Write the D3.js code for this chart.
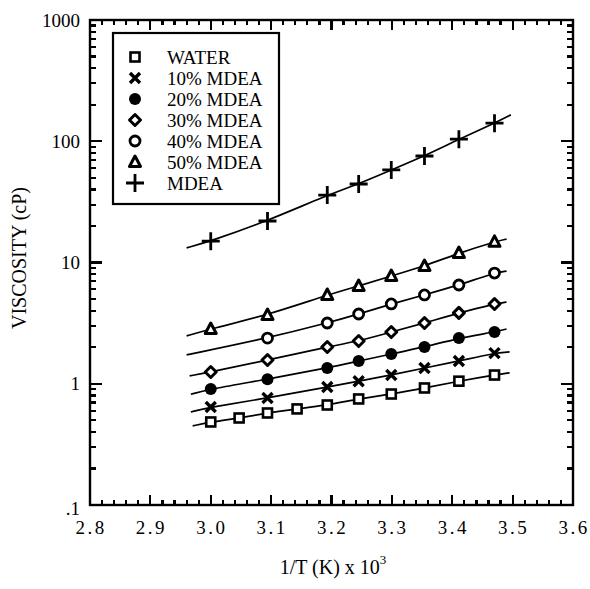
<!DOCTYPE html>
<html>
<head>
<meta charset="utf-8">
<script src="https://cdn.jsdelivr.net/npm/d3@7"></script>
</head>
<body style="margin:0">
<svg id="chart" width="590" height="589" font-family="Liberation Serif, Times New Roman, serif"></svg>
<script>
// 1/T (K) x 10^3 at each measured temperature
var xMain = [3.0, 3.094, 3.193, 3.245, 3.299, 3.354, 3.411, 3.470];
var xWater = [3.0, 3.047, 3.094, 3.143, 3.193, 3.245, 3.299, 3.354, 3.411, 3.470];
var x40 = [3.094, 3.193, 3.245, 3.299, 3.354, 3.411, 3.470];

// viscosity (cP)
var water = [0.484, 0.522, 0.574, 0.62, 0.668, 0.749, 0.823, 0.923, 1.05, 1.18];
var mdea10 = [0.643, 0.762, 0.94, 1.05, 1.18, 1.35, 1.54, 1.79];
var mdea20 = [0.905, 1.09, 1.35, 1.54, 1.76, 2.01, 2.38, 2.67];
var mdea30 = [1.25, 1.57, 2.01, 2.25, 2.67, 3.17, 3.84, 4.55];
var mdea40 = [2.38, 3.17, 3.76, 4.55, 5.40, 6.52, 8.18];
var mdea50 = [2.83, 3.69, 5.4, 6.4, 7.74, 9.36, 11.97, 14.8];
var mdea100 = [15.0, 22.0, 36.0, 44.4, 58.0, 75.6, 104, 141];

// ends of the fitted curves [x, value]
var fitStart = [[2.97, 0.449], [2.967, 0.585], [2.967, 0.82], [2.965, 1.16], [2.96, 1.73], [2.96, 2.48], [2.96, 13.2]];
var fitEnd = [[3.495, 1.23], [3.495, 1.83], [3.49, 2.83], [3.49, 4.72], [3.49, 8.5], [3.49, 15.6], [3.497, 165]];

var names = ["WATER", "10% MDEA", "20% MDEA", "30% MDEA", "40% MDEA", "50% MDEA", "MDEA"];
var symbols = ["square", "cross", "dot", "diamond", "circle", "triangle", "plus"];

var xTicks = [2.8, 2.9, 3.0, 3.1, 3.2, 3.3, 3.4, 3.5, 3.6];
var yTicks = [0.1, 1, 10, 100, 1000];
var yLabels = [".1", "1", "10", "100", "1000"];

var series = [
  { x: xWater, y: water },
  { x: xMain, y: mdea10 },
  { x: xMain, y: mdea20 },
  { x: xMain, y: mdea30 },
  { x: x40, y: mdea40 },
  { x: xMain, y: mdea50 },
  { x: xMain, y: mdea100 }
];

var margin = { top: 20, right: 17, bottom: 84, left: 90 },
    w = 590 - margin.left - margin.right,
    h = 589 - margin.top - margin.bottom;

var svg = d3.select("#chart");
var g = svg.append("g").attr("transform", "translate(" + margin.left + "," + margin.top + ")");

var x = d3.scaleLinear().domain([2.8, 3.6]).range([0, w]);
var y = d3.scaleLog().domain([0.1, 1000]).range([h, 0]);

// minor ticks
var xMinor = d3.range(140, 181, 1).map(function (d) { return d / 50; });
var yMinor = [];
[0.1, 1, 10, 100].forEach(function (dec) {
  for (var k = 2; k <= 9; k++) yMinor.push(dec * k);
});

g.selectAll(".xlab").data(xTicks).join("text")
  .attr("class", "xlab")
  .attr("x", function (d) { return x(d) + 1; })
  .attr("y", h + 29)
  .attr("text-anchor", "middle")
  .attr("font-size", 19)
  .attr("letter-spacing", "2.5px")
  .text(d3.format(".1f"));

g.selectAll(".ylab").data(yTicks).join("text")
  .attr("class", "ylab")
  .attr("x", -10)
  .attr("y", function (d) { return y(d); })
  .attr("dy", function (d, i) { return i === 0 ? "0.55em" : "0.35em"; })
  .attr("text-anchor", "end")
  .attr("font-size", 19)
  .text(function (d, i) { return yLabels[i]; });

// fitted curves
var line = d3.line()
  .x(function (d) { return x(d[0]); })
  .y(function (d) { return y(d[1]); })
  .curve(d3.curveBasis);

series.forEach(function (s, i) {
  var pts = [fitStart[i]].concat(s.x.map(function (xv, j) { return [xv, s.y[j]]; })).concat([fitEnd[i]]);
  g.append("path")
    .attr("d", line(pts))
    .attr("fill", "none")
    .attr("stroke", "#000")
    .attr("stroke-width", 1.7);
});

// markers
function marker(sel, type) {
  if (type === "square") {
    sel.append("rect").attr("x", -4.5).attr("y", -4.5).attr("width", 9).attr("height", 9)
      .attr("fill", "#fff").attr("stroke", "#000").attr("stroke-width", 2.6);
  } else if (type === "cross") {
    sel.append("path").attr("d", "M-5,-5L5,5M-5,5L5,-5")
      .attr("stroke", "#000").attr("stroke-width", 3.4);
  } else if (type === "dot") {
    sel.append("circle").attr("r", 6).attr("fill", "#000");
  } else if (type === "diamond") {
    sel.append("path").attr("d", "M0,-5.5L5.5,0L0,5.5L-5.5,0Z")
      .attr("fill", "#fff").attr("stroke", "#000").attr("stroke-width", 3)
      .attr("stroke-linejoin", "round");
  } else if (type === "circle") {
    sel.append("circle").attr("r", 5).attr("fill", "#fff")
      .attr("stroke", "#000").attr("stroke-width", 2.8);
  } else if (type === "triangle") {
    sel.append("path").attr("d", "M0,-6L5.5,4.5L-5.5,4.5Z")
      .attr("fill", "#fff").attr("stroke", "#000").attr("stroke-width", 3)
      .attr("stroke-linejoin", "round");
  } else if (type === "plus") {
    sel.append("path").attr("d", "M-9,0L9,0M0,-9L0,9")
      .attr("stroke", "#000").attr("stroke-width", 2.8);
  }
}

series.forEach(function (s, i) {
  s.x.forEach(function (xv, j) {
    var m = g.append("g").attr("transform", "translate(" + x(xv) + "," + y(s.y[j]) + ")");
    marker(m, symbols[i]);
  });
});

// legend
var legend = svg.append("g");
legend.append("rect")
  .attr("x", 113).attr("y", 33).attr("width", 166).attr("height", 171)
  .attr("fill", "#fff").attr("stroke", "#000").attr("stroke-width", 2.2);
names.forEach(function (n, i) {
  var ly = 57 + i * 21;
  var m = legend.append("g").attr("transform", "translate(135," + ly + ")");
  marker(m, symbols[i]);
  legend.append("text")
    .attr("x", 167).attr("y", ly)
    .attr("dy", "0.35em")
    .attr("font-size", 19)
    .text(n);
});

// axis titles
svg.append("text")
  .attr("transform", "translate(26,258) rotate(-90)")
  .attr("text-anchor", "middle")
  .attr("font-size", 20)
  .text("VISCOSITY (cP)");

var xt = svg.append("text")
  .attr("x", 333).attr("y", 574)
  .attr("text-anchor", "middle")
  .attr("font-size", 20);
xt.append("tspan").text("1/T (K) x 10");
xt.append("tspan").attr("dy", -10).attr("font-size", 13).text("3");

// frame and inward ticks on all four sides, drawn last so nothing covers them
var frame = svg.append("g").attr("transform", "translate(" + margin.left + "," + margin.top + ")");
frame.append("rect")
  .attr("width", w).attr("height", h)
  .attr("fill", "none").attr("stroke", "#000").attr("stroke-width", 2.4);

var tp = d3.path();
[[xMinor, 5], [xTicks, 10]].forEach(function (t) {
  t[0].forEach(function (d) {
    tp.moveTo(x(d), h); tp.lineTo(x(d), h - t[1]);
    tp.moveTo(x(d), 0); tp.lineTo(x(d), t[1]);
  });
});
[[yMinor, 6], [yTicks, 12]].forEach(function (t) {
  t[0].forEach(function (d) {
    tp.moveTo(0, y(d)); tp.lineTo(t[1], y(d));
    tp.moveTo(w, y(d)); tp.lineTo(w - t[1], y(d));
  });
});
frame.append("path")
  .attr("d", tp.toString())
  .attr("fill", "none")
  .attr("stroke", "#000")
  .attr("stroke-width", 2.2)
  .attr("shape-rendering", "crispEdges");
</script>
</body>
</html>
